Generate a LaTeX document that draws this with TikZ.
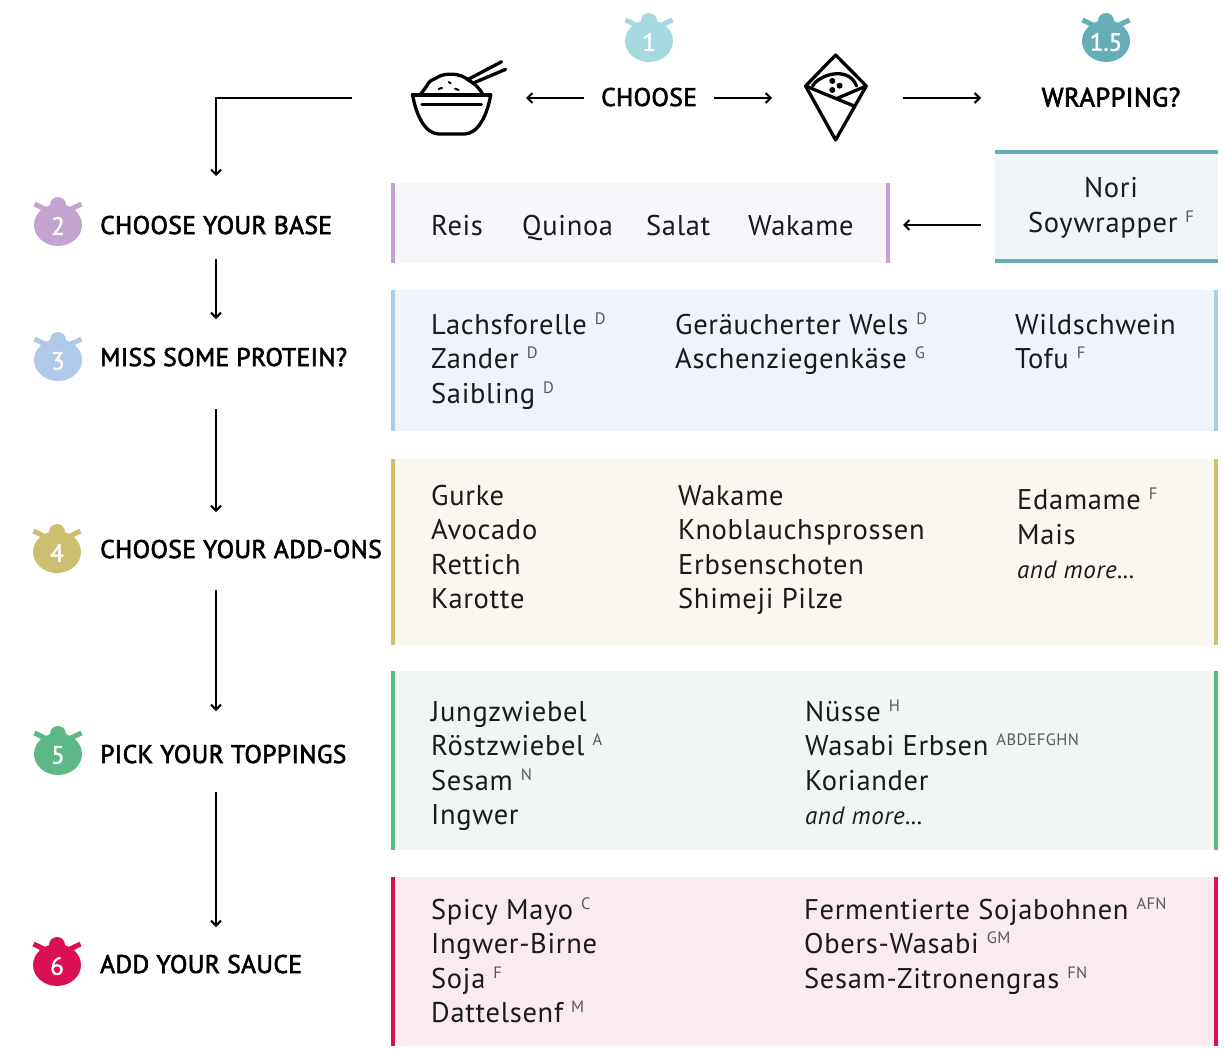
\documentclass[tikz,border=0pt]{standalone}
\usepackage{fontspec}
\setmainfont{PT Sans}[LetterSpace=2.4]
\newfontfamily\stepf{PT Sans}[LetterSpace=1.5,FakeBold=2.5]
\newfontfamily\numf{PT Sans}[FakeBold=1.5]
\usetikzlibrary{arrows.meta}
\definecolor{cOne}{HTML}{A6D9E0}
\definecolor{cWrap}{HTML}{65AEB8}
\definecolor{cBase}{HTML}{C5A3D0}
\definecolor{cProt}{HTML}{AFC9EA}
\definecolor{cAdd}{HTML}{CDBF6F}
\definecolor{cTop}{HTML}{5CB885}
\definecolor{cSauce}{HTML}{DB0F55}
\definecolor{fBase}{HTML}{F8F5FB}
\definecolor{fWrap}{HTML}{EFF5F8}
\definecolor{fProt}{HTML}{EEF3FC}
\definecolor{fAdd}{HTML}{FAF7F0}
\definecolor{fTop}{HTML}{F1F6F2}
\definecolor{fSauce}{HTML}{FAECEE}
\definecolor{ink}{HTML}{1A1A1A}
\tikzset{
  itemtext/.style={anchor=base west,inner sep=0pt,yshift=-1.6pt,text=ink,font=\fontsize{28.5}{30}\selectfont},
  steptext/.style={anchor=base west,inner sep=0pt,text=black,font=\fontsize{25.5}{28}\stepf},
  slot/.style={inner sep=0pt,outer sep=0pt,minimum width=1pt},
  arr/.style={line width=2.2pt,-{Straight Barb[length=5pt,width=10pt,line width=2pt]}},
  icon/.style={line width=3.3pt,line cap=round,line join=round,black},
}
\newcommand\sups[1]{\hspace{8pt}{\raisebox{10.5pt}{\fontsize{16.5}{16.5}\selectfont\color{black!65}#1}}}
\newcommand\itm[4]{\node[itemtext] (#1) at (#2,#3) {#4};}
\newcommand\badge[5]{%
  \begin{scope}[shift={(#2,#3)}]
    \fill[#4] (0,28) ellipse [x radius=24,y radius=21];
    \fill[#4] (0,8) circle [radius=8];
    \draw[#4,line width=5pt] (-13,12) -- (-23.5,7);
    \draw[#4,line width=5pt] (13,12) -- (23.5,7);
    \node[inner sep=0pt,text=white,font=\fontsize{25}{25}\numf] (#1) at (0,29) {#5};
  \end{scope}}
\newcommand\panelLR[7]{%
  \fill[#6] (#2,#3) rectangle (#4,#5);
  \fill[#7] (#2,#3) rectangle ++(4,#5-#3);
  \fill[#7] (#4,#3) rectangle ++(-4,#5-#3);
  \node[slot,minimum width=#4pt-#2pt,minimum height=#5pt-#3pt] (#1) at ({(#2+#4)/2},{(#3+#5)/2}) {};}
\begin{document}
\begin{tikzpicture}[x=1pt,y=-1pt]
\useasboundingbox (0,0) rectangle (1224,1049);
% panels
\panelLR{pBase}{391}{183}{890}{263}{fBase}{cBase}
\fill[fWrap] (995,150) rectangle (1218,263);
\fill[cWrap] (995,150) rectangle (1218,154);
\fill[cWrap] (995,259) rectangle (1218,263);
\node[slot,minimum width=223pt,minimum height=113pt] (pWrap) at (1106.5,206.5) {};
\panelLR{pProt}{391}{290}{1218}{431}{fProt}{cProt}
\panelLR{pAdd}{391}{459}{1218}{645}{fAdd}{cAdd}
\panelLR{pTop}{391}{671}{1218}{850}{fTop}{cTop}
\panelLR{pSauce}{391}{877}{1218}{1046}{fSauce}{cSauce}
% badges
\badge{b1}{649}{13}{cOne}{1}
\badge{b15}{1106}{13}{cWrap}{1.5}
\badge{b2}{58}{197}{cBase}{2}
\badge{b3}{58}{332}{cProt}{3}
\badge{b4}{57}{524}{cAdd}{4}
\badge{b5}{58}{726}{cTop}{5}
\badge{b6}{57}{937}{cSauce}{6}
% headings
\node[steptext,anchor=base] (choose) at (649,106) {CHOOSE};
\node[steptext,anchor=base,font=\fontsize{26.5}{28}\stepf] (wrapping) at (1111,106.5) {WRAPPING?};
\node[steptext] (s2) at (100,234) {CHOOSE YOUR BASE};
\node[steptext] (s3) at (100,366) {MISS SOME PROTEIN?};
\node[steptext] (s4) at (100,558) {CHOOSE YOUR ADD-ONS};
\node[steptext] (s5) at (100,763) {PICK YOUR TOPPINGS};
\node[steptext] (s6) at (100,973) {ADD YOUR SAUCE};
% items
\node[itemtext,anchor=base] (nori) at (1111,196) {Nori};
\node[itemtext,anchor=base] (soy) at (1111,231) {Soywrapper\sups{F}};
\itm{reis}{431}{234}{Reis}
\itm{quinoa}{522}{234}{Quinoa}
\itm{salat}{646}{234}{Salat}
\itm{wakameA}{748}{234}{Wakame}
\itm{lachs}{431}{333}{Lachsforelle\sups{D}}
\itm{zander}{431}{367}{Zander\sups{D}}
\itm{saib}{431}{402}{Saibling\sups{D}}
\itm{wels}{675}{333}{Geräucherter Wels\sups{D}}
\itm{asche}{675}{367}{Aschenziegenkäse\sups{G}}
\itm{wild}{1015}{333}{Wildschwein}
\itm{tofu}{1015}{367}{Tofu\sups{F}}
\itm{gurke}{431}{504}{Gurke}
\itm{avo}{431}{538}{Avocado}
\itm{rett}{431}{573}{Rettich}
\itm{karo}{431}{607}{Karotte}
\itm{wakameB}{678}{504}{Wakame}
\itm{knob}{678}{538}{Knoblauchsprossen}
\itm{erbs}{678}{573}{Erbsenschoten}
\itm{shim}{678}{607}{Shimeji Pilze}
\itm{eda}{1017}{508}{Edamame\sups{F}}
\itm{mais}{1017}{543}{Mais}
\itm{moreA}{1017}{577}{\fontsize{25}{26}\selectfont\itshape and more...}
\itm{jung}{431}{720}{Jungzwiebel}
\itm{roest}{431}{754}{Röstzwiebel\sups{A}}
\itm{sesam}{431}{789}{Sesam\sups{N}}
\itm{ingw}{431}{823}{Ingwer}
\itm{nuss}{805}{720}{Nüsse\sups{H}}
\itm{wasa}{805}{754}{Wasabi Erbsen\sups{ABDEFGHN}}
\itm{kori}{805}{789}{Koriander}
\itm{moreB}{805}{823}{\fontsize{25}{26}\selectfont\itshape and more...}
\itm{spicy}{431}{918}{Spicy Mayo\sups{C}}
\itm{birne}{431}{952}{Ingwer-Birne}
\itm{soja}{431}{987}{Soja\sups{F}}
\itm{dattel}{431}{1021}{Dattelsenf\sups{M}}
\itm{ferm}{804}{918}{Fermentierte Sojabohnen\sups{AFN}}
\itm{obers}{804}{952}{Obers-Wasabi\sups{GM}}
\itm{zitr}{804}{987}{Sesam-Zitronengras\sups{FN}}
% bowl icon
\begin{scope}[shift={(400,0)},x=0.3333pt,y=-0.3333pt]
  \draw[icon] (37,285) -- (272,285);
  \draw[icon] (38,285) .. controls (48,345) and (75,400) .. (115,402) -- (195,402) .. controls (235,400) and (262,345) .. (272,285);
  \draw[icon] (66,313) -- (244,313);
  \draw[icon] (62,282) .. controls (72,270) and (78,262) .. (85,250) .. controls (92,238) and (105,238) .. (112,232) .. controls (135,218) and (180,218) .. (205,240) .. controls (225,250) and (240,268) .. (248,282);
  \draw[icon] (205,238) -- (305,185);
  \draw[icon] (218,250) -- (317,208);
  \draw[icon,line width=2pt] (116,267) -- (126,264);
  \draw[icon,line width=2pt] (146,246) -- (152,250);
  \draw[icon,line width=2pt] (165,266) -- (176,270);
\end{scope}
\node[slot,minimum width=152pt,minimum height=80pt] (bowl) at (450,98) {};
% crepe icon
\begin{scope}[shift={(400,0)},x=0.3333pt,y=-0.3333pt]
  \draw[icon] (1307,165) -- (1399,258) -- (1307,420) -- (1217,258) -- cycle;
  \draw[icon] (1217,258) -- (1362,318);
  \draw[icon] (1399,258) -- (1312,295);
  \draw[icon] (1238,258) .. controls (1255,225) and (1345,195) .. (1370,258);
  \fill (1297,243) circle [radius=9];
  \fill (1319,257) circle [radius=9];
  \fill (1297,270) circle [radius=9];
\end{scope}
\node[slot,minimum width=128pt,minimum height=88pt] (crepe) at (836,98) {};
% connector anchors
\node[slot,minimum width=130pt,minimum height=30pt] (chooseSlot) at (649,98) {};
\node[slot,minimum width=260pt,minimum height=30pt] (wrapSlot) at (1111,98) {};
\node[slot,minimum height=83pt] (lane2) at (216,217.5) {};
\node[slot,minimum height=90pt] (lane3) at (216,364) {};
\node[slot,minimum height=78pt] (lane4) at (216,551) {};
\node[slot,minimum height=81pt] (lane5) at (216,751.5) {};
\node[slot,minimum height=70pt] (lane6) at (216,962) {};
% connectors
\draw[arr] (chooseSlot.west) -- (bowl.east);
\draw[arr] (chooseSlot.east) -- (crepe.west);
\draw[arr,shorten <=3pt] (crepe.east) -- (wrapSlot.west);
\draw[arr,shorten >=13pt,shorten <=14pt] (pWrap.west |- 0,225) -- (pBase.east |- 0,225);
\draw[arr,shorten <=22pt,line join=miter] (bowl.west) -| (lane2.north);
\draw[arr] (lane2.south) -- (lane3.north);
\draw[arr] (lane3.south) -- (lane4.north);
\draw[arr] (lane4.south) -- (lane5.north);
\draw[arr] (lane5.south) -- (lane6.north);
\end{tikzpicture}
\end{document}
